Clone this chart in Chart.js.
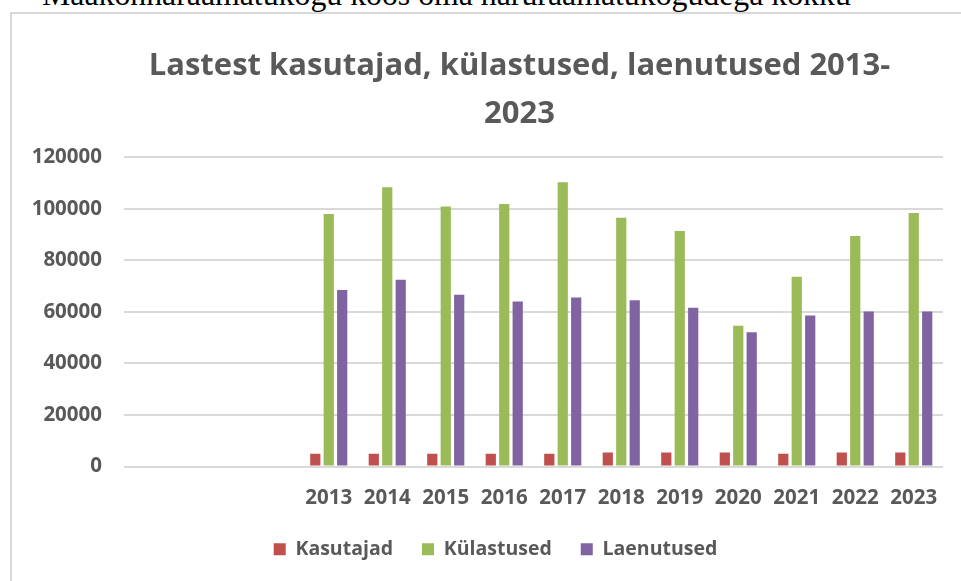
<!DOCTYPE html>
<html>
<head>
<meta charset="utf-8">
<script src="https://cdn.jsdelivr.net/npm/chart.js@4/dist/chart.umd.min.js"></script>
<style>
  html, body { margin: 0; padding: 0; background: #fff; overflow: hidden; }
  body { width: 961px; height: 581px; position: relative; }
  #caption {
    position: absolute; left: 42px; top: -21px;
    font-family: "Liberation Serif", "Times New Roman", serif;
    font-size: 31.8px; line-height: 1; color: #000; white-space: nowrap;
  }
  #frame {
    position: absolute; left: 10px; top: 12px; width: 1000px; height: 600px;
    border-left: 2px solid #d9d9d9; border-top: 2px solid #d9d9d9;
  }
  #wrap { position: absolute; left: 0; top: 0; width: 961px; height: 581px; }
</style>
</head>
<body>
<div id="caption">Maakonnaraamatukogu koos oma haruraamatukogudega kokku</div>
<div id="frame"></div>
<div id="wrap"><canvas id="grafico" width="961" height="581"></canvas></div>
<script>
// three empty categories come before 2013 in the original sheet
const aastad = ['', '', '', '2013', '2014', '2015', '2016', '2017', '2018', '2019', '2020', '2021', '2022', '2023'];
const kasutajad = [null, null, null, 4900, 4900, 4900, 4900, 4900, 5400, 5400, 5400, 4900, 5400, 5400];
const kulastused = [null, null, null, 98000, 108400, 100900, 101900, 110300, 96500, 91400, 54600, 73600, 89400, 98400];
const laenutused = [null, null, null, 68500, 72500, 66600, 64000, 65600, 64500, 61600, 52100, 58600, 60100, 60100];
const yTicks = [0, 20000, 40000, 60000, 80000, 100000, 120000];

const grey = '#595959';
const font = '"Open Sans"';

// Excel centres title and legend over the whole (wider) chart frame, not the visible part
const nihe = {
  id: 'nihe',
  afterLayout(chart) {
    chart.titleBlock.left += 48;
    chart.titleBlock.right += 48;
    chart.legend.left += 24;
    chart.legend.right += 24;
  }
};

const ctx = document.getElementById('grafico').getContext('2d');

new Chart(ctx, {
  type: 'bar',
  data: {
    labels: aastad,
    datasets: [
      { label: 'Kasutajad', data: kasutajad, backgroundColor: '#c0504d' },
      { label: 'Külastused', data: kulastused, backgroundColor: '#9bbb59' },
      { label: 'Laenutused', data: laenutused, backgroundColor: '#8064a2' },
    ],
  },
  options: {
    responsive: false,
    animation: false,
    categoryPercentage: 0.69,
    barPercentage: 0.76,
    layout: { padding: { left: 0, right: 18, top: 0, bottom: 12 } },
    plugins: {
      tooltip: { enabled: false },
      title: {
        display: true,
        text: ['Lastest kasutajad, külastused, laenutused 2013-', '2023'],
        color: grey,
        font: { family: font, size: 31, weight: 'bold', lineHeight: 1.52 },
        padding: { top: 43, bottom: 20 },
      },
      legend: {
        position: 'bottom',
        labels: {
          color: grey,
          font: { family: font, size: 19.5, weight: 'bold' },
          boxWidth: 12,
          boxHeight: 12,
          padding: 29,
        },
      },
    },
    scales: {
      x: {
        grid: { display: false, drawTicks: false },
        border: { display: false },
        ticks: {
          color: grey,
          font: { family: font, size: 20.5, weight: 'bold' },
          padding: 19,
          maxRotation: 0,
          autoSkip: false,
        },
        afterFit(scale) { scale.height = 44; },
      },
      y: {
        min: 0,
        max: 120000,
        afterBuildTicks(scale) { scale.ticks = yTicks.map(v => ({ value: v })); },
        grid: { color: '#d9d9d9', lineWidth: 2, drawTicks: false },
        border: { display: false },
        ticks: {
          color: grey,
          font: { family: font, size: 20.5, weight: 'bold' },
          padding: 22,
          callback: (value) => String(value),
        },
        afterFit(scale) { scale.width = 124; },
      },
    },
  },
  plugins: [nihe],
});
</script>
</body>
</html>
